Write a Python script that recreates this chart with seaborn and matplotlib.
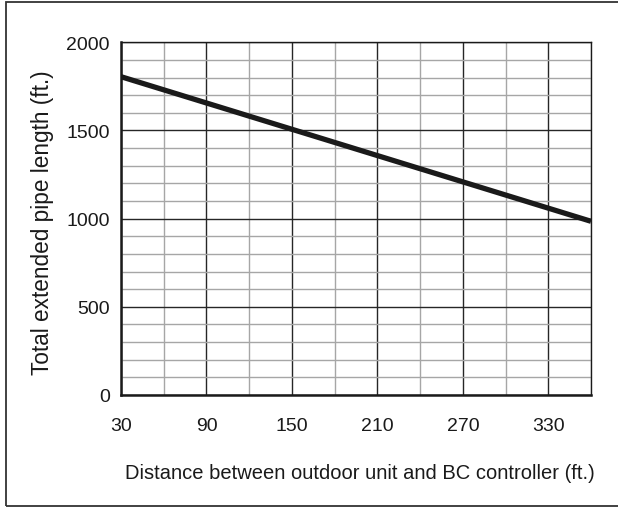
import matplotlib
matplotlib.use("Agg")
import matplotlib.pyplot as plt
from matplotlib.patches import Rectangle
from matplotlib.ticker import MultipleLocator
import numpy as np
import pandas as pd
import seaborn as sns

# Allowable total extended piping length vs. outdoor unit -> BC controller distance
distance_ft = [30, 360]
total_length_ft = [1805, 985]

x_ticks = [30, 90, 150, 210, 270, 330]
y_ticks = [0, 500, 1000, 1500, 2000]

x_label = "Distance between outdoor unit and BC controller (ft.)"
y_label = "Total extended pipe length (ft.)"

sns.set_style("white")
plt.rcParams["font.family"] = ["Liberation Sans", "DejaVu Sans"]

df = pd.DataFrame({"distance": distance_ft, "length": total_length_ft})

fig = plt.figure(figsize=(6.18, 5.10), dpi=100)
ax = fig.add_axes([121 / 618, 114 / 510, 470 / 618, 352.7 / 510])

sns.lineplot(data=df, x="distance", y="length", ax=ax, color="#1a1a1a",
             linewidth=3.8, zorder=5, solid_capstyle="butt")

ax.set_xlim(30, 360)
ax.set_ylim(0, 2000)
ax.set_xticks(x_ticks)
ax.set_yticks(y_ticks)
ax.xaxis.set_minor_locator(MultipleLocator(30))
ax.yaxis.set_minor_locator(MultipleLocator(100))

ax.grid(which="minor", color="#a6a6a6", linewidth=1.0, zorder=1)
ax.grid(which="major", color="#262626", linewidth=1.0, zorder=2)
ax.set_axisbelow(True)

ax.tick_params(which="both", length=0)
ax.tick_params(axis="x", labelsize=14, pad=16, colors="#1a1a1a")
ax.tick_params(axis="y", labelsize=14, pad=8, colors="#1a1a1a")

for side, sp in ax.spines.items():
    sp.set_color("#1a1a1a")
    sp.set_linewidth(1.0)
ax.spines["left"].set_linewidth(1.8)
ax.spines["bottom"].set_linewidth(1.8)

ax.set_xlabel(x_label, fontsize=14.5, color="#1a1a1a")
ax.set_ylabel(y_label, fontsize=16.3, color="#1a1a1a")
ax.xaxis.label.set_va("center")
ax.yaxis.set_label_coords(-0.168, 0.49)
ax.yaxis.label.set_va("center")
ax.yaxis.label.set_ha("center")
# centre the x label under the full figure frame rather than the axes
ax.xaxis.set_label_coords((360 / 618 - 121 / 618) / (470 / 618), -0.221)

# frame around the figure
fig.patches.append(Rectangle((6 / 618, 3 / 510), 1.2, 504 / 510,
                             transform=fig.transFigure, fill=False,
                             edgecolor="#333333", linewidth=1.3))

fig.savefig("out.png", dpi=100)
